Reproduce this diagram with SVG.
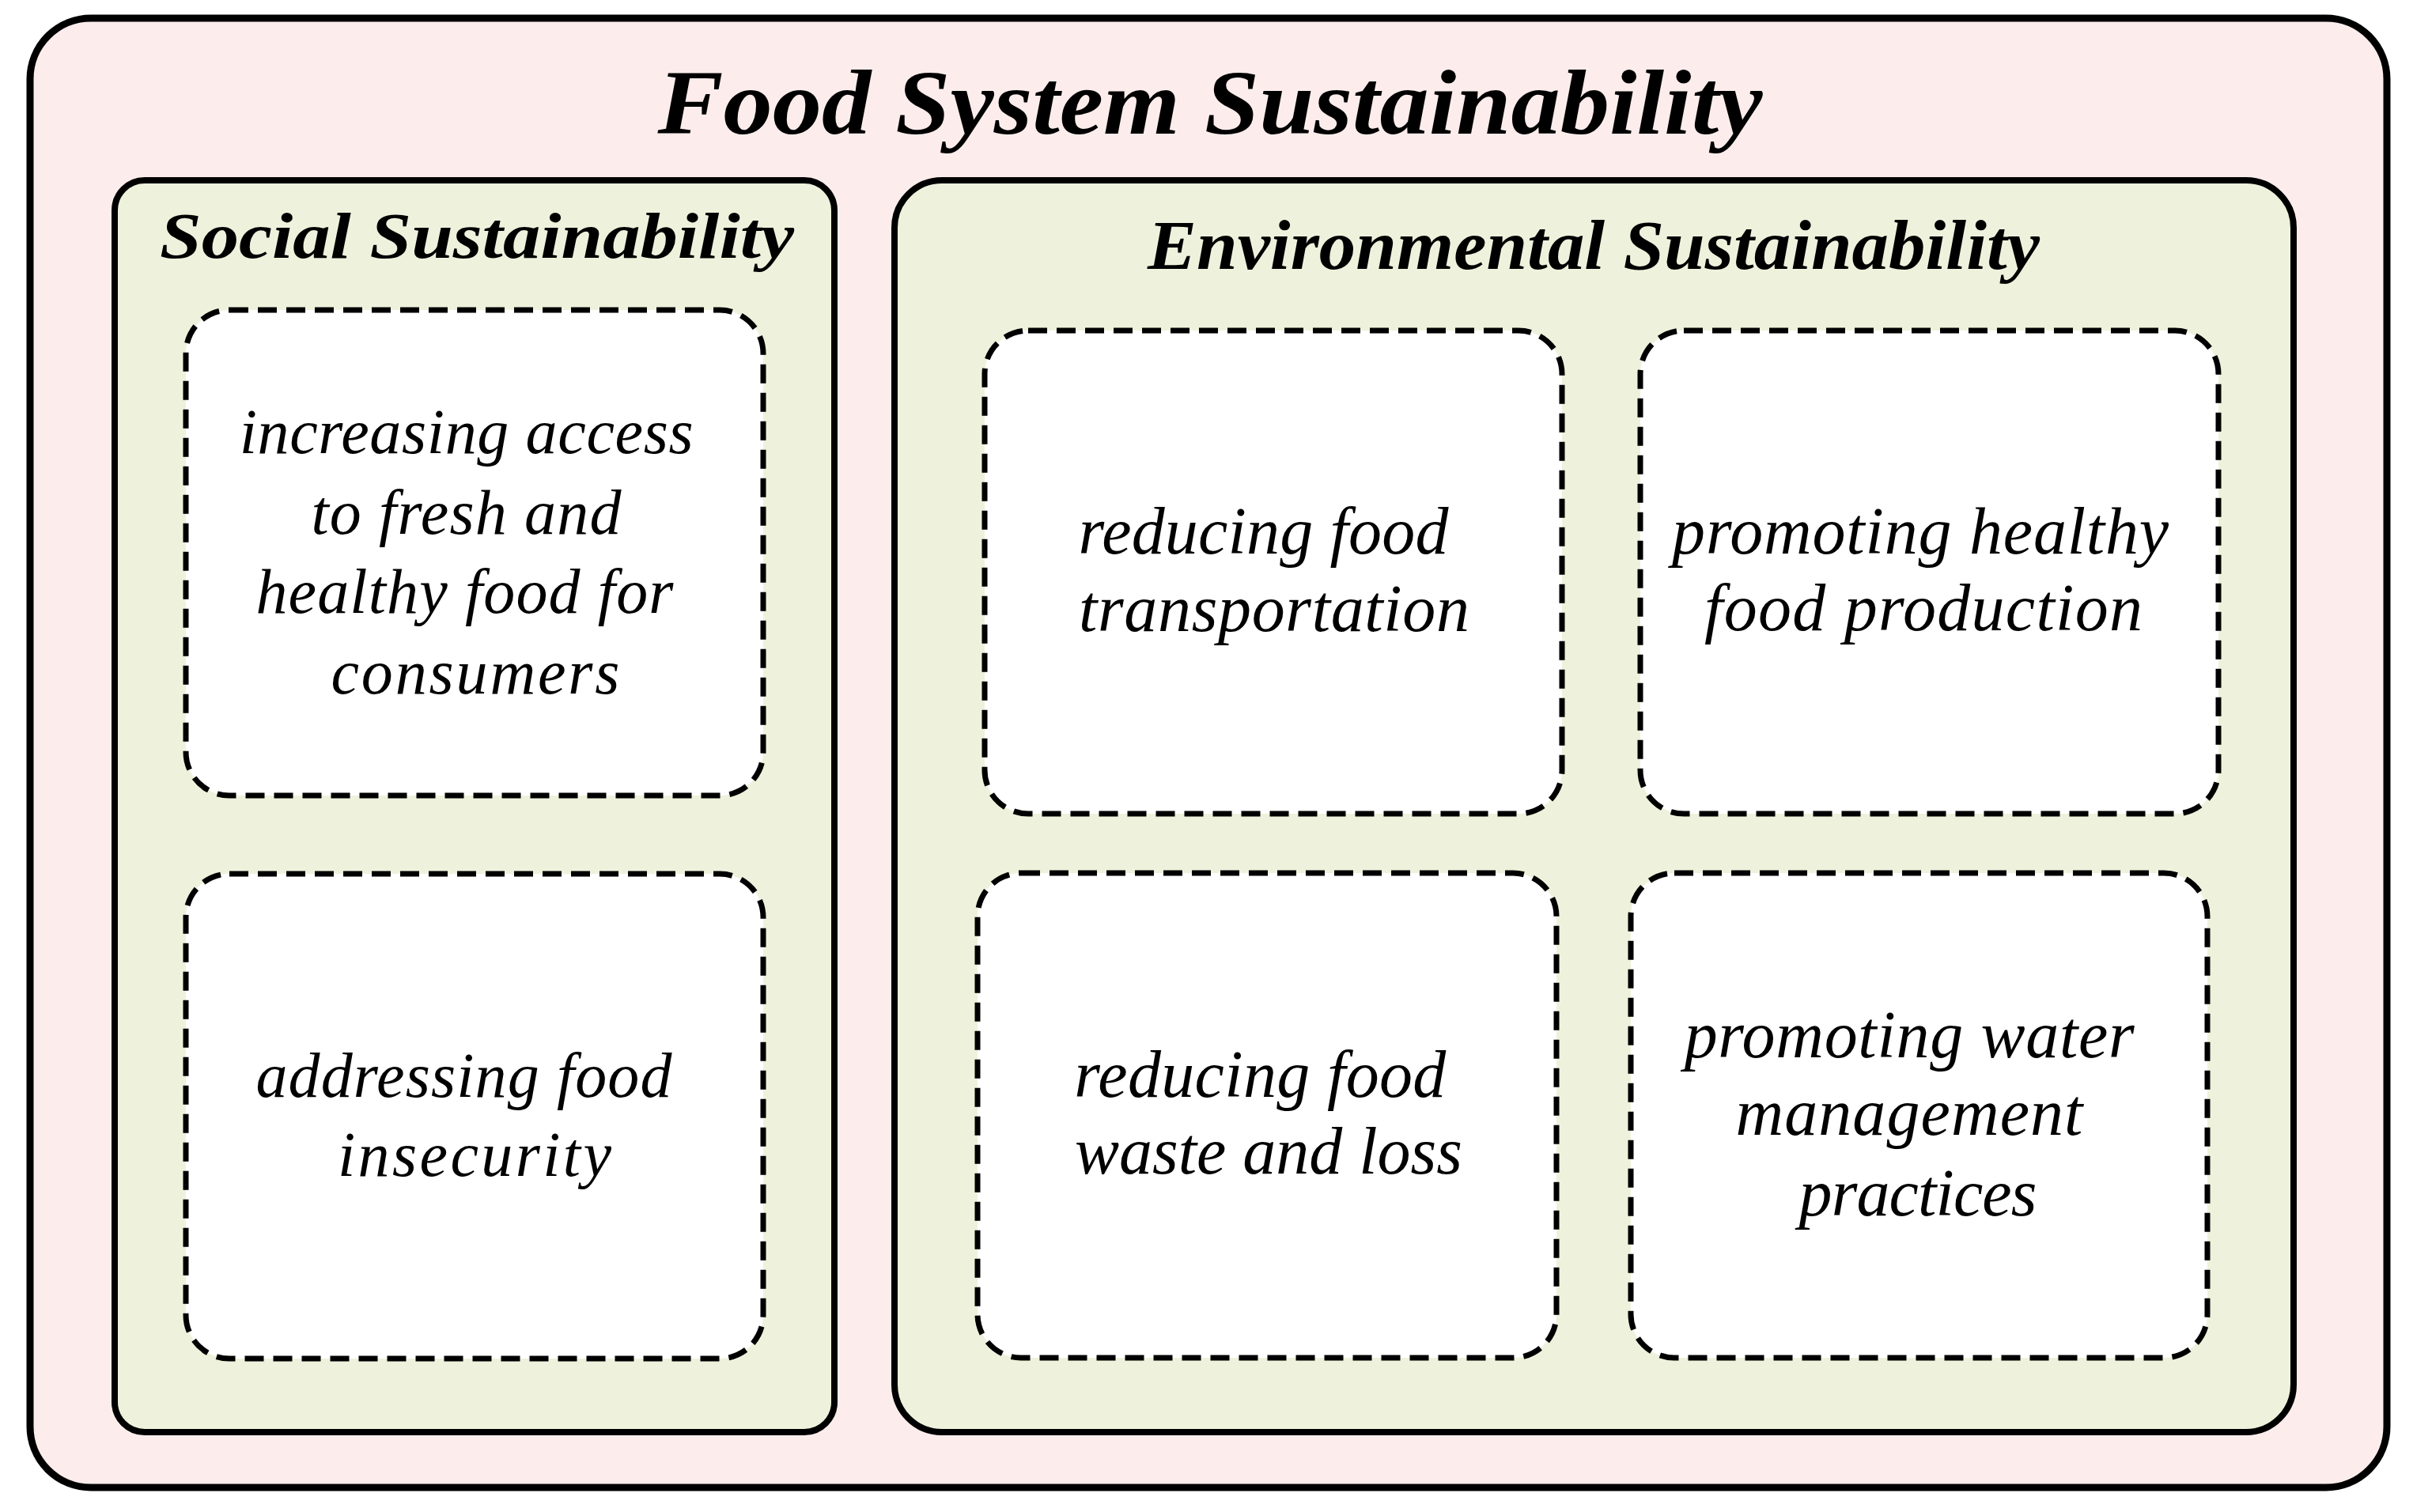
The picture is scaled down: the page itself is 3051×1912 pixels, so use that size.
<svg xmlns="http://www.w3.org/2000/svg" width="3051" height="1912" viewBox="0 0 3051 1912">
<style>
.outer{fill:#FCEDEC;stroke:#000;stroke-width:9}
.panel{fill:#EEF2DC;stroke:#000;stroke-width:8}
.item{fill:#FFFFFF;stroke:#000;stroke-width:7;stroke-dasharray:24 12}
.head{font-family:"Liberation Serif","Times New Roman",serif;font-style:italic;font-weight:bold;fill:#000;text-anchor:middle}
.body{font-family:"Liberation Serif","Times New Roman",serif;font-style:italic;fill:#000;text-anchor:middle}
</style>
<rect width="3051" height="1912" fill="#FFFFFF"/>
<g id="food-system">
<rect class="outer" x="38" y="23" width="2980" height="1858" rx="77" ry="77"/>
<text class="head" x="1530" y="169" font-size="116" textLength="1397" lengthAdjust="spacingAndGlyphs">Food System Sustainability</text>
</g>
<g id="social">
<rect class="panel" x="145" y="228" width="910" height="1583" rx="38" ry="38"/>
<text class="head" x="603" y="326" font-size="82" textLength="802" lengthAdjust="spacingAndGlyphs">Social Sustainability</text>
</g>
<g id="environmental">
<rect class="panel" x="1131" y="228" width="1769" height="1583" rx="60" ry="60"/>
<text class="head" x="2015" y="340" font-size="88" textLength="1128" lengthAdjust="spacingAndGlyphs">Environmental Sustainability</text>
</g>
<g id="increasing-access">
<rect class="item" x="235" y="392" width="730" height="614" rx="55" ry="55"/>
<text class="body" font-size="80" lengthAdjust="spacingAndGlyphs">
<tspan x="600" y="573" textLength="574">increasing access</tspan>
<tspan x="600" y="675" textLength="392">to fresh and</tspan>
<tspan x="598" y="775" textLength="528">healthy food for</tspan>
<tspan x="601" y="877" textLength="365">consumers</tspan>
</text>
</g>
<g id="addressing-insecurity">
<rect class="item" x="235" y="1105" width="730" height="613" rx="55" ry="55"/>
<text class="body" font-size="80" lengthAdjust="spacingAndGlyphs">
<tspan x="597" y="1387" textLength="526">addressing food</tspan>
<tspan x="600" y="1487" textLength="346">insecurity</tspan>
</text>
</g>
<g id="reducing-transportation">
<rect class="item" x="1245" y="418" width="730" height="611" rx="55" ry="55"/>
<text class="body" font-size="84" lengthAdjust="spacingAndGlyphs">
<tspan x="1608" y="700" textLength="468">reducing food</tspan>
<tspan x="1611" y="798" textLength="494">transportation</tspan>
</text>
</g>
<g id="healthy-production">
<rect class="item" x="2074" y="418" width="731" height="611" rx="55" ry="55"/>
<text class="body" font-size="84" lengthAdjust="spacingAndGlyphs">
<tspan x="2439" y="700" textLength="628">promoting healthy</tspan>
<tspan x="2432" y="797" textLength="554">food production</tspan>
</text>
</g>
<g id="reducing-waste">
<rect class="item" x="1236" y="1104" width="732" height="613" rx="55" ry="55"/>
<text class="body" font-size="84" lengthAdjust="spacingAndGlyphs">
<tspan x="1604" y="1387" textLength="470">reducing food</tspan>
<tspan x="1604" y="1484" textLength="490">waste and loss</tspan>
</text>
</g>
<g id="water-management">
<rect class="item" x="2062" y="1104" width="729" height="613" rx="55" ry="55"/>
<text class="body" font-size="84" lengthAdjust="spacingAndGlyphs">
<tspan x="2425" y="1337" textLength="569">promoting water</tspan>
<tspan x="2425" y="1435" textLength="439">management</tspan>
<tspan x="2425" y="1537" textLength="301">practices</tspan>
</text>
</g>
<g id="connectors"></g>
</svg>
